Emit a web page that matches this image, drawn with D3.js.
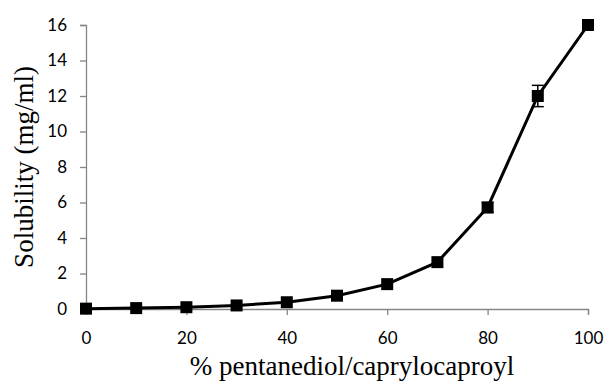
<!DOCTYPE html>
<html>
<head>
<meta charset="utf-8">
<script src="https://cdn.jsdelivr.net/npm/d3@7"></script>
<style>
  body { margin: 0; background: #fff; }
  .tick text { font-family: Lato, "Open Sans", sans-serif; font-size: 17px; fill: #000; }
  .title { font-family: "Liberation Serif", "Times New Roman", serif; font-size: 27px; fill: #000; }
</style>
</head>
<body>
<div id="chart"></div>
<script>
// data
var percent = [0, 10, 20, 30, 40, 50, 60, 70, 80, 90, 100];
var solubility = [0.02, 0.05, 0.1, 0.2, 0.38, 0.75, 1.4, 2.64, 5.72, 12.0, 16.0];
var errors = [0, 0, 0, 0, 0, 0, 0, 0, 0.28, 0.6, 0];
var xTicks = [0, 20, 40, 60, 80, 100];
var yTicks = [0, 2, 4, 6, 8, 10, 12, 14, 16];

var margin = {top: 25, right: 16, bottom: 76, left: 86},
    width = 604 - margin.left - margin.right,
    height = 385 - margin.top - margin.bottom;

var svg = d3.select("#chart")
    .append("svg")
    .attr("width", 604)
    .attr("height", 385);

var g = svg.append("g")
    .attr("transform", "translate(" + margin.left + "," + margin.top + ")");

var x = d3.scaleLinear().domain([0, 100]).range([0, width]);
var y = d3.scaleLinear().domain([0, 16]).range([height, 0]);

// axes
g.append("g")
    .attr("transform", "translate(0," + height + ")")
    .call(d3.axisBottom(x).tickValues(xTicks).tickSize(6).tickPadding(17));
g.append("g")
    .call(d3.axisLeft(y).tickValues(yTicks).tickSize(6).tickPadding(13));

g.selectAll(".domain, .tick line").attr("stroke", "#868686").attr("stroke-width", 1.3);

// line
g.append("path")
    .datum(percent)
    .attr("fill", "none")
    .attr("stroke", "#000")
    .attr("stroke-width", 3)
    .attr("d", d3.line()
        .x(function(d) { return x(d); })
        .y(function(d, i) { return y(solubility[i]); })
    );

// error bars
g.selectAll(".err")
    .data(percent.filter(function(d, i) { return errors[i] > 0; }))
    .enter().append("g")
    .each(function(d) {
        var i = percent.indexOf(d);
        var s = d3.select(this);
        var hi = y(solubility[i] + errors[i]), lo = y(solubility[i] - errors[i]);
        s.append("line").attr("x1", x(d)).attr("x2", x(d)).attr("y1", hi).attr("y2", lo)
            .attr("stroke", "#000").attr("stroke-width", 1.5);
        [hi, lo].forEach(function(v) {
            s.append("line").attr("x1", x(d) - 6).attr("x2", x(d) + 6).attr("y1", v).attr("y2", v)
                .attr("stroke", "#000").attr("stroke-width", 1.5);
        });
    });

// markers
g.selectAll(".pt")
    .data(percent)
    .enter().append("rect")
    .attr("x", function(d) { return x(d) - 6; })
    .attr("y", function(d, i) { return y(solubility[i]) - 6; })
    .attr("width", 12)
    .attr("height", 12)
    .attr("fill", "#000");

// titles
svg.append("text")
    .attr("class", "title")
    .attr("x", 352)
    .attr("y", 375)
    .attr("text-anchor", "middle")
    .text("% pentanediol/caprylocaproyl");

svg.append("text")
    .attr("class", "title")
    .attr("transform", "translate(33," + (margin.top + height / 2) + ") rotate(-90)")
    .attr("text-anchor", "middle")
    .text("Solubility (mg/ml)");
</script>
</body>
</html>
